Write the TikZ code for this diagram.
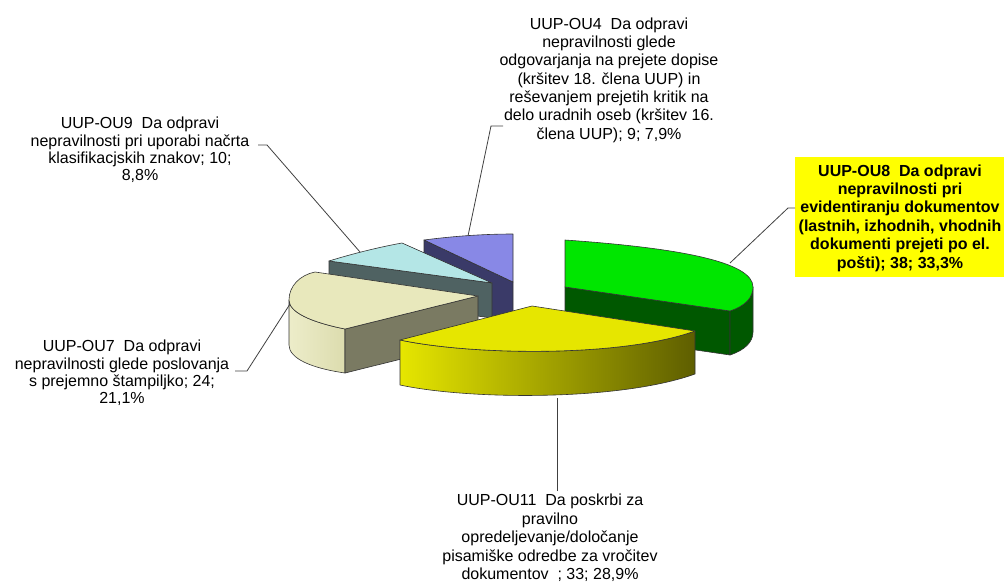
\documentclass[tikz,border=0pt]{standalone}
\usepackage{fontspec}
\setmainfont{Liberation Sans}
\usetikzlibrary{positioning}
\definecolor{pGreen}{HTML}{00E600}
\definecolor{pGreenD}{HTML}{005800}
\definecolor{pYellow}{HTML}{E6E600}
\definecolor{pYellowD}{HTML}{5E5E00}
\definecolor{pBeige}{HTML}{E8E8BC}
\definecolor{pBeigeS}{HTML}{DCDCAE}
\definecolor{pBeigeD}{HTML}{7A7A62}
\definecolor{pCyan}{HTML}{B4E6E6}
\definecolor{pCyanD}{HTML}{4F6262}
\definecolor{pBlue}{HTML}{8888E6}
\definecolor{pBlueD}{HTML}{3A3A68}
\definecolor{boxYellow}{HTML}{FFFF00}

\begin{document}
\begin{tikzpicture}[x=1pt, y=-1pt,
    edge/.style={draw=black!80, line width=0.6pt, line join=round},
    lbl/.style={align=center, inner sep=0pt, font=\fontsize{16}{17.2}\selectfont},
    leader/.style={draw=black!75, line width=0.8pt}]
  \useasboundingbox (0,0) rectangle (1004,583);

  % slices, back to front
  \fill[pBlueD, edge] (424,240) -- (513,282) -- (513,326) -- (424,284) -- cycle;
  \fill[pBlue, edge] (424,240) .. controls (455,236) and (485,234) .. (513,234) -- (513,282) -- cycle;

  \fill[pCyanD, edge] (329,261) -- (492,283) -- (492,318) -- (329,296) -- cycle;
  \fill[pCyan, edge] (329,261) .. controls (355,253) and (380,247) .. (402,243) -- (492,283) -- cycle;

  \fill[pGreenD, edge] (565,287) -- (730,311) -- (730,355) -- (565,331) -- cycle;
  \fill[pGreenD, edge] (730,311) .. controls (745,306) and (753,298) .. (753,287)
    -- (753,332) .. controls (753,342) and (745,350) .. (730,355) -- cycle;
  \fill[pGreen, edge] (565,240) .. controls (680,248) and (753,262) .. (753,287)
    .. controls (753,298) and (745,306) .. (730,311) -- (565,287) -- cycle;

  \shade[left color=pBeige!80!white, right color=pBeigeS] (345,329) .. controls (310,322) and (289,312) .. (289,300)
    -- (289,345) .. controls (289,358) and (310,368) .. (345,373) -- cycle;
  \draw[edge] (345,329) .. controls (310,322) and (289,312) .. (289,300)
    -- (289,345) .. controls (289,358) and (310,368) .. (345,373) -- cycle;
  \fill[pBeigeD, edge] (478,296) -- (345,329) -- (345,373) -- (478,340) -- cycle;
  \fill[pBeige, edge] (478,296) -- (345,329) .. controls (310,322) and (289,312) .. (289,300)
    .. controls (289,286) and (300,275) .. (315,272) -- cycle;

  \shade[left color=pYellow, right color=pYellowD] (400,340) .. controls (470,355) and (620,358) .. (695,331)
    -- (695,374) .. controls (620,401) and (470,400) .. (400,385) -- cycle;
  \draw[edge] (400,340) .. controls (470,355) and (620,358) .. (695,331)
    -- (695,374) .. controls (620,401) and (470,400) .. (400,385) -- cycle;
  \fill[pYellow, edge] (532,306) -- (400,340) .. controls (470,355) and (620,358) .. (695,331) -- cycle;

  % labels
  \fill[boxYellow] (795,157) rectangle (1004,277);
  \node[lbl, font=\fontsize{16}{18.3}\selectfont] (ou4) at (609,80)
    {UUP-OU4~~Da odpravi\\nepravilnosti glede\\odgovarjanja na prejete dopise\\(kršitev 18. člena UUP) in\\reševanjem prejetih kritik na\\delo uradnih oseb (kršitev 16.\\člena UUP); 9; 7,9\%};
  \node[lbl, font=\fontsize{16}{18.4}\selectfont\bfseries] (ou8) at (900,218)
    {UUP-OU8~~Da odpravi\\nepravilnosti pri\\evidentiranju dokumentov\\(lastnih, izhodnih, vhodnih\\dokumenti prejeti po el.\\pošti); 38; 33,3\%};
  \node[lbl] (ou9) at (140,150)
    {UUP-OU9~~Da odpravi\\nepravilnosti pri uporabi načrta\\klasifikacjskih znakov; 10;\\8,8\%};
  \node[lbl] (ou7) at (122,373)
    {UUP-OU7~~Da odpravi\\nepravilnosti glede poslovanja\\s prejemno štampiljko; 24;\\21,1\%};
  \node[lbl, font=\fontsize{16}{18.6}\selectfont] (ou11) at (550,538)
    {UUP-OU11~~Da poskrbi za\\pravilno\\opredeljevanje/določanje\\pisamiške odredbe za vročitev\\dokumentov~~; 33; 28,9\%};

  % leader lines
  \coordinate (l4) at (503,126);
  \coordinate (t4) at (468,236);
  \coordinate (l8) at (795,208);
  \coordinate (t8) at (730,263);
  \coordinate (l9) at (258,145);
  \coordinate (t9) at (360,252);
  \coordinate (l7) at (235,371);
  \coordinate (t7) at (290,304);
  \coordinate (l11) at (557,491);
  \coordinate (t11) at (557,398);
  \draw[leader] (l4) -- ++(-12,0) -- (t4);
  \draw[leader] (l8) -- ++(-7,0) -- (t8);
  \draw[leader] (l9) -- ++(9,0) -- (t9);
  \draw[leader] (l7) -- ++(12,0) -- (t7);
  \draw[leader] (l11) -- (t11);
\end{tikzpicture}
\end{document}
